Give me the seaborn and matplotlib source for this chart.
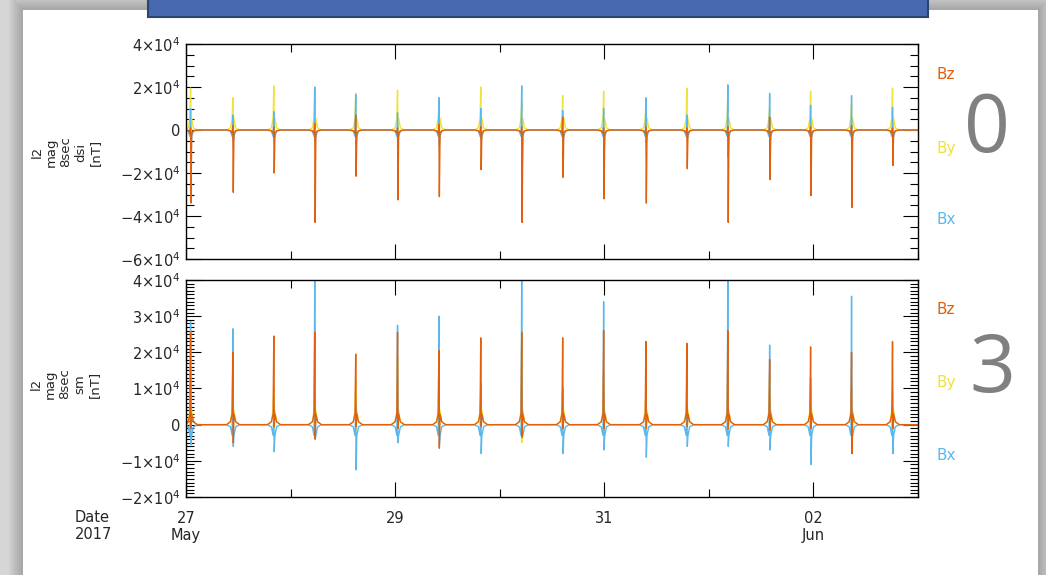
import matplotlib
matplotlib.use('Agg')
import matplotlib.pyplot as plt
from matplotlib.patches import Rectangle
from matplotlib.ticker import FixedLocator, FixedFormatter, MultipleLocator
import pandas as pd
import seaborn as sns

# horas desde 27 May 2017 00:00 de cada pico (passagem pelo perigeu)
spike_hours = [1.1, 10.8, 20.2, 29.6, 39.0, 48.6, 58.1, 67.7, 77.1,
               86.5, 95.9, 105.6, 115.0, 124.4, 134.0, 143.4, 152.8, 162.2]

# painel 0: l2 mag 8sec dsi [nT]
dsi_bx_max = [10000, 7000, 8500, 20000, 16500, 8000, 15000, 10000, 20500,
              9000, 10000, 15000, 7000, 21000, 17000, 11500, 16000, 10500]
dsi_bx_min = [-14000, -5000, -4000, -5000, -7000, -3000, -7000, -4500, -21000,
              -5000, -13000, -6000, -4000, -12500, -6000, -4000, -8500, -3000]
dsi_by_max = [19500, 15000, 20500, 19500, 17000, 18500, 15000, 20000, 13000,
              16000, 18000, 12000, 19500, 15000, 10000, 18000, 12000, 19500]
dsi_by_min = [-2000, -1500, -1000, -2500, -1500, -1000, -2000, -1500, -2500,
              -1000, -2000, -1500, -1000, -2500, -1500, -1000, -2000, -1000]
dsi_bz_max = [1000, 2000, 1500, 3000, 7000, 1000, 2500, 1500, 1500,
              6000, 1000, 1500, 1000, 1500, 6000, 1500, 2000, 1000]
dsi_bz_min = [-34000, -29000, -20000, -43000, -21500, -32500, -31000, -18500, -43000,
              -22000, -32000, -34000, -18000, -43000, -23000, -30500, -36000, -16500]
# ombros em torno de cada pico: (externo, interno)
dsi_hump = {'Bx': (-500, -3000), 'By': (1000, 5500), 'Bz': (-300, -1500)}

# painel 3: l2 mag 8sec sm [nT]
sm_bx_max = [28500, 26500, 4000, 42000, 5000, 27500, 30000, 11500, 42000,
             10000, 34000, 6000, 5000, 42000, 22000, 13000, 35500, 5000]
sm_bx_min = [-5500, -6000, -7500, -4000, -12500, -5000, -5500, -8000, -3000,
             -8000, -7000, -9000, -6000, -6000, -7000, -11000, -4000, -8000]
sm_by_max = [19000, 14500, 10500, 27500, 12500, 19000, 20000, 8000, 26000,
             10000, 15000, 10000, 13000, 18000, 14000, 10000, 10000, 9000]
sm_by_min = [-1500, -2000, -1000, -2000, -1500, -1000, -1500, -1000, -5000,
             -1500, -2000, -1000, -1500, -2000, -1000, -1500, -1000, -1500]
sm_bz_max = [25500, 20000, 24500, 25500, 19500, 25500, 20500, 24000, 25500,
             24000, 26000, 23000, 22500, 26000, 18000, 21500, 20000, 23000]
sm_bz_min = [-1000, -5000, -500, -4000, -500, -1000, -6500, -500, -3500,
             -1000, -1000, -1000, -500, -1000, -1500, -1000, -8000, -1000]
sm_hump = {'Bx': (-600, -3000), 'By': (800, 4000), 'Bz': (800, 3000)}

dsi_ticks = [-6, -4, -2, 0, 2, 4]
sm_ticks = [-2, -1, 0, 1, 2, 3, 4]
x_ticks = [0, 48, 96, 144]
x_labels = ['27\nMay', '29', '31', '02\nJun']

cores = {'Bz': '#e0600c', 'By': '#f0e23c', 'Bx': '#5bb8ec'}
forma_dt = [-1.5, -0.6, -0.2, -0.05, 0.05, 0.2, 0.6, 1.5]


def montar_serie(maximos, minimos, corcova, nome):
    ext, intr = corcova
    horas, valores = [0.0], [0.0]
    for t, mx, mn in zip(spike_hours, maximos, minimos):
        for dt, v in zip(forma_dt, [0, ext, intr, mx, mn, intr, ext, 0]):
            horas.append(max(t + dt, 0.0))
            valores.append(v)
    horas.append(168.0)
    valores.append(0.0)
    return pd.DataFrame({'hora': horas, 'valor': valores, 'comp': nome})


def tabela(bx, by, bz, hump):
    return pd.concat([montar_serie(bx[0], bx[1], hump['Bx'], 'Bx'),
                      montar_serie(by[0], by[1], hump['By'], 'By'),
                      montar_serie(bz[0], bz[1], hump['Bz'], 'Bz')], ignore_index=True)


def rotulo(t):
    if t == 0:
        return '0'
    return ('\u2212' if t < 0 else '') + f'{abs(t)}\u00d710$^{{4}}$'


df_dsi = tabela((dsi_bx_max, dsi_bx_min), (dsi_by_max, dsi_by_min), (dsi_bz_max, dsi_bz_min), dsi_hump)
df_sm = tabela((sm_bx_max, sm_bx_min), (sm_by_max, sm_by_min), (sm_bz_max, sm_bz_min), sm_hump)

sns.set_style('white')
plt.rcParams['font.family'] = ['DejaVu Sans']
plt.rcParams['mathtext.default'] = 'regular'

W, H = 1046, 575
fig = plt.figure(figsize=(W / 100, H / 100), dpi=100)
fig.patch.set_facecolor('#d6d6d6')


def px(x, y):
    return x / W, 1 - y / H


# sombra e painel branco do slide
for i in range(8):
    fig.patches.append(Rectangle(px(23 - 2 * i, 575), (1015 + 4 * i) / W, (565 + 2 * i) / H,
                                 transform=fig.transFigure, facecolor='black', alpha=0.03,
                                 edgecolor='none', zorder=-12))
fig.patches.append(Rectangle(px(23, 575), 1015 / W, 565 / H, transform=fig.transFigure,
                             facecolor='white', edgecolor='none', zorder=-10))
fig.patches.append(Rectangle(px(148, 17), 780 / W, 30 / H, transform=fig.transFigure,
                             facecolor='#4868b0', edgecolor='#2c4470', lw=1.5, zorder=-9))

ax1 = fig.add_axes([186 / W, 1 - 259 / H, 732 / W, 215 / H])
ax2 = fig.add_axes([186 / W, 1 - 497 / H, 732 / W, 217 / H])

ordem = ['By', 'Bx', 'Bz']
for ax, df, ticks, minor, ylim in [(ax1, df_dsi, dsi_ticks, 5000, (-60000, 40000)),
                                   (ax2, df_sm, sm_ticks, 1000, (-20000, 40000))]:
    sns.lineplot(data=df, x='hora', y='valor', hue='comp', hue_order=ordem, palette=cores,
                 estimator=None, sort=False, legend=False, lw=1.0, ax=ax)
    ax.set_xlim(0, 168)
    ax.set_ylim(*ylim)
    ax.set_xlabel('')
    ax.set_ylabel('')
    ax.yaxis.set_major_locator(FixedLocator([t * 1e4 for t in ticks]))
    ax.yaxis.set_major_formatter(FixedFormatter([rotulo(t) for t in ticks]))
    ax.yaxis.set_minor_locator(MultipleLocator(minor))
    ax.xaxis.set_major_locator(FixedLocator(x_ticks))
    ax.xaxis.set_major_formatter(FixedFormatter(x_labels))
    ax.xaxis.set_minor_locator(MultipleLocator(24))
    ax.tick_params(which='both', direction='in', top=True, right=True,
                   left=True, bottom=True, color='black', width=0.8)
    ax.tick_params(which='major', length=11, labelsize=10.5, pad=4)
    ax.tick_params(which='minor', length=5.5)
    ax.tick_params(axis='x', which='major', pad=10)
    for s in ax.spines.values():
        s.set_color('black')
        s.set_linewidth(1.0)

ax1.tick_params(axis='x', labelbottom=False)

# rotulos de eixo e de componentes
fig.text(*px(66, 152), 'l2\nmag\n8sec\ndsi\n[nT]', rotation=90, ha='center', va='center',
         multialignment='center', fontsize=9.5, linespacing=1.15)
fig.text(*px(65, 384), 'l2\nmag\n8sec\nsm\n[nT]', rotation=90, ha='center', va='center',
         multialignment='center', fontsize=9.5, linespacing=1.15)
fig.text(*px(75, 510), 'Date\n2017', ha='left', va='top', fontsize=10.5)

for nome, y1, y2 in [('Bz', 74, 309), ('By', 148, 383), ('Bx', 220, 455)]:
    fig.text(*px(937, y1), nome, color=cores[nome], fontsize=11, va='center', ha='left')
    fig.text(*px(937, y2), nome, color=cores[nome], fontsize=11, va='center', ha='left')

fig.text(*px(987, 131), '0', color='#808080', fontsize=58, ha='center', va='center',
         family=['Open Sans', 'DejaVu Sans'])
fig.text(*px(992, 371), '3', color='#808080', fontsize=58, ha='center', va='center',
         family=['Open Sans', 'DejaVu Sans'])

fig.savefig('out.png', dpi=100, facecolor=fig.get_facecolor())
